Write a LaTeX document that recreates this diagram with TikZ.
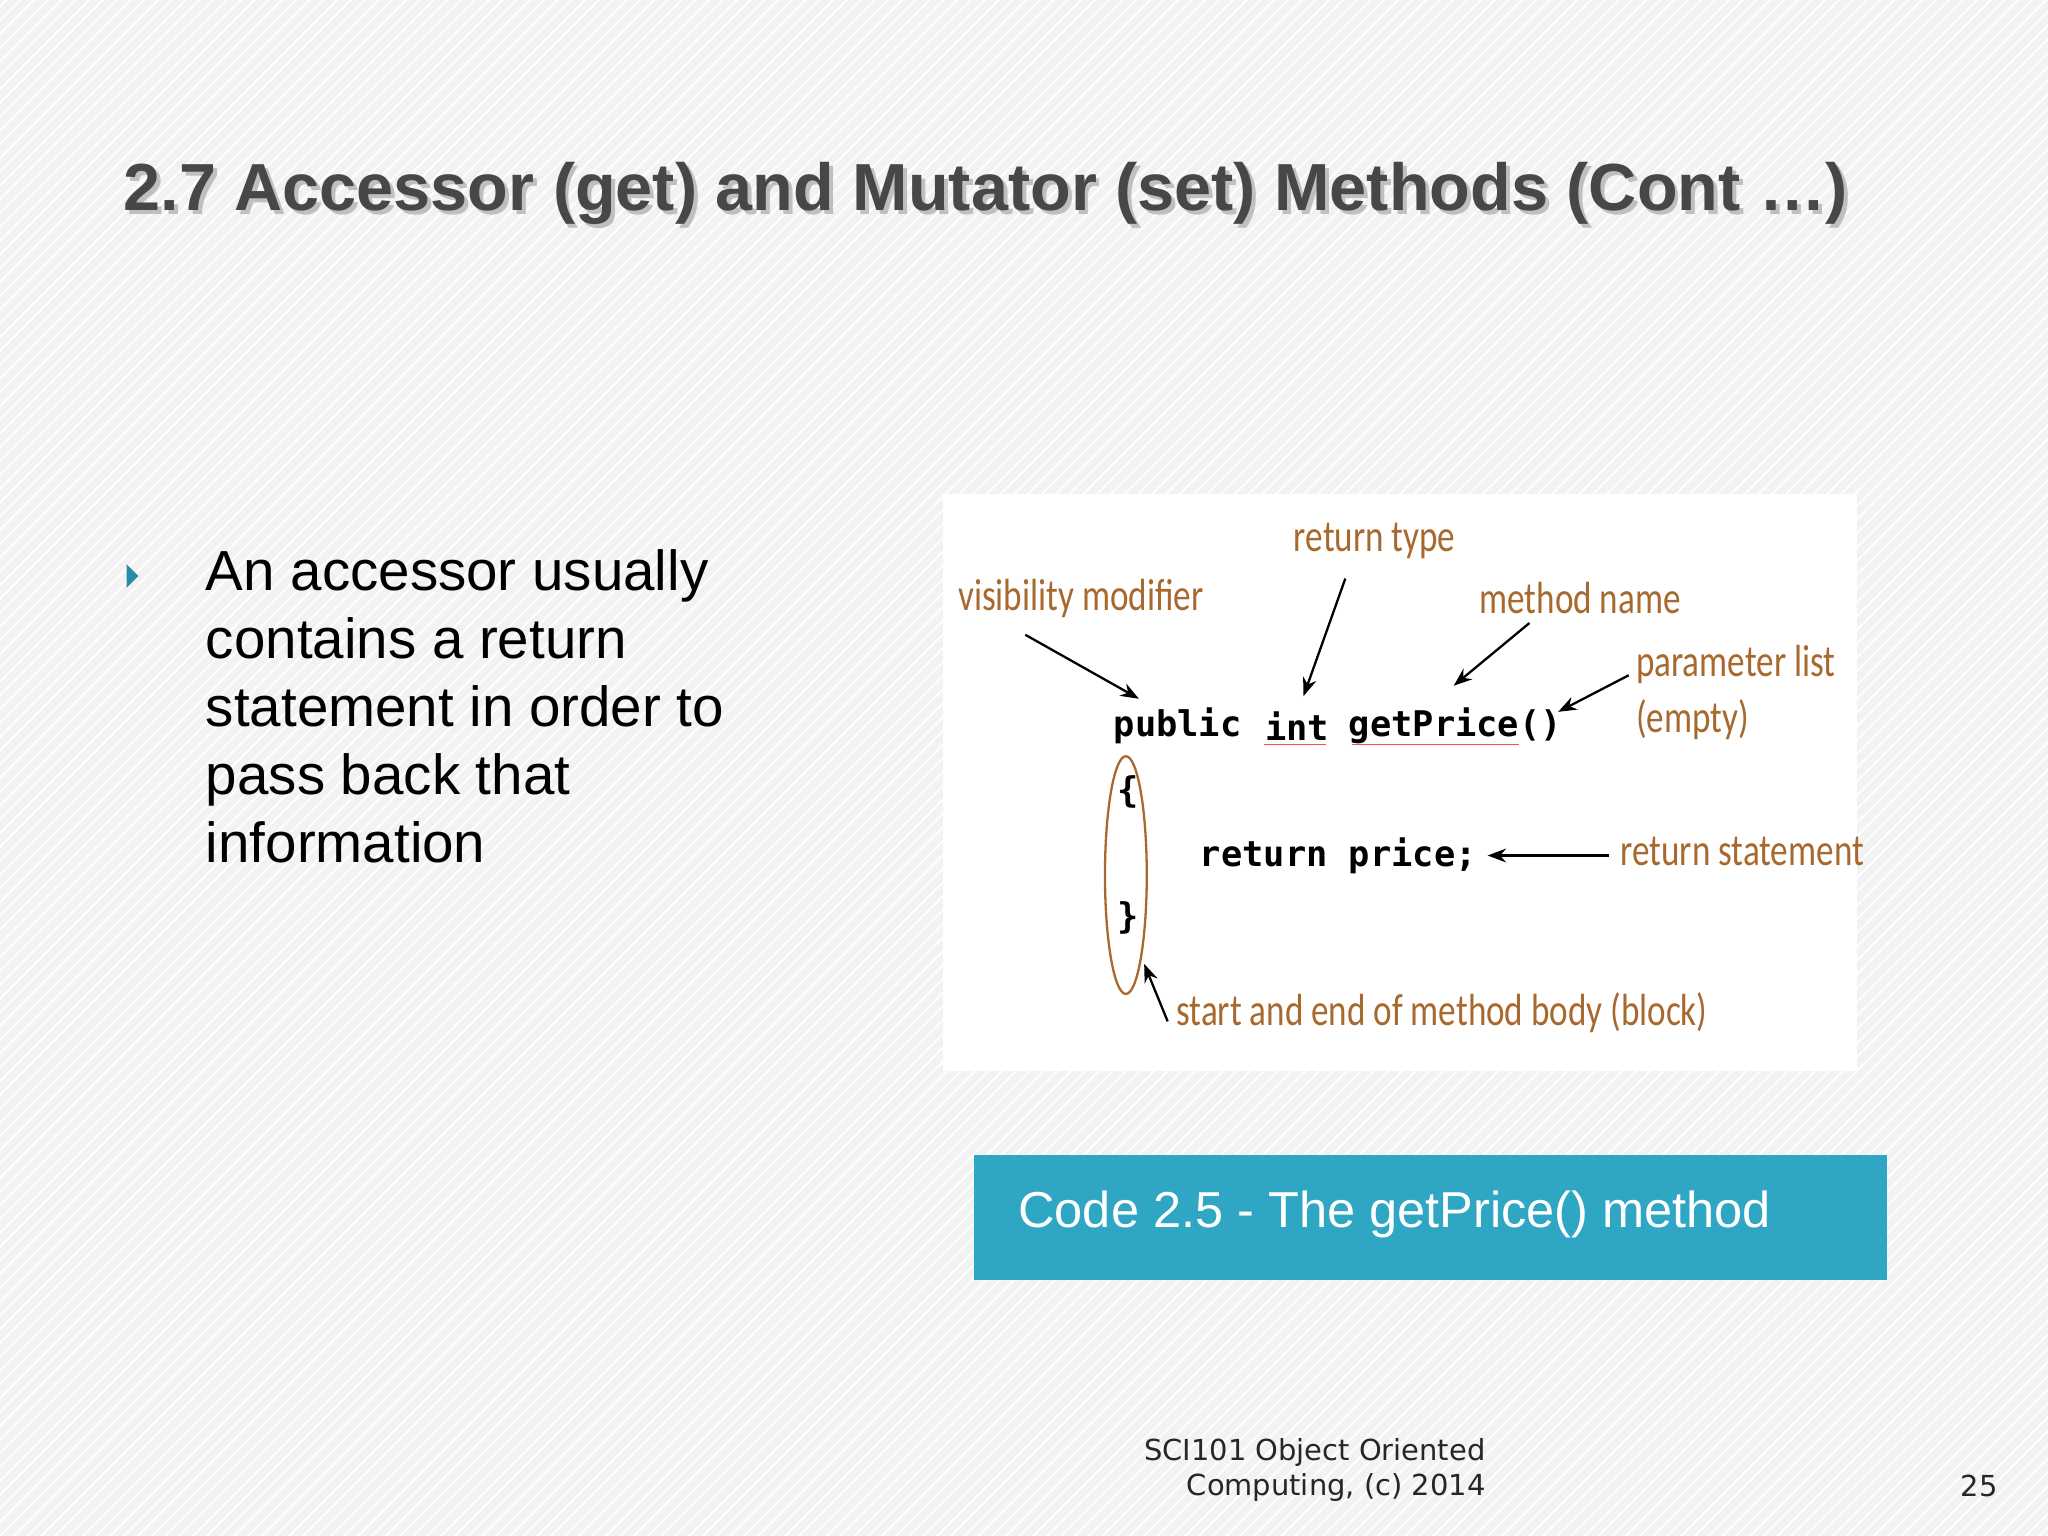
\documentclass[tikz,border=0pt]{standalone}
\usepackage{fontspec}
\setmainfont{Liberation Sans}
\newfontfamily\annfont[FakeStretch=0.78]{Carlito}
\newfontfamily\codefont{DejaVu Sans Mono}
\newfontfamily\footfont{DejaVu Sans}
\usetikzlibrary{arrows.meta,patterns}
\definecolor{ann}{HTML}{A8692E}
\definecolor{capblue}{HTML}{2EA6C4}
\definecolor{bg}{HTML}{F2F2F2}
\tikzset{
  annot/.style={font=\annfont\fontsize{9.8}{11}\selectfont, text=ann, inner sep=0pt, anchor=west},
  code/.style={font=\codefont\bfseries\fontsize{7.7}{9}\selectfont, inner sep=0pt, anchor=west},
  arr/.style={-{Stealth[length=4pt,width=3pt]}, line width=0.5pt},
}
\begin{document}
\begin{tikzpicture}[x=0.01cm,y=-0.01cm]
\useasboundingbox (0,0) rectangle (1568,1176);
\fill[bg] (0,0) rectangle (1568,1176);
\fill[pattern=north east lines, pattern color=white] (0,0) rectangle (1568,1176);
% title
\node[anchor=west, inner sep=0pt, font=\bfseries\fontsize{14.5}{18}\selectfont, text=black!25] (tshadow) at (97,151) {2.7 Accessor (get) and Mutator (set) Methods (Cont \dots)};
\node[anchor=west, inner sep=0pt, font=\bfseries\fontsize{14.5}{18}\selectfont, text=black!72] (title) at (94,148) {2.7 Accessor (get) and Mutator (set) Methods (Cont \dots)};
% bullet
\fill[capblue!85!black] (97,432) -- (106,441) -- (97,450) -- cycle;
\node[anchor=north west, inner sep=0pt, align=left, font=\fontsize{12.3}{14.8}\selectfont] (body) at (157,420) {An accessor usually\\contains a return\\statement in order to\\pass back that\\information};
% image panel
\fill[white] (722,378) rectangle (1422,820);
\node[code] (public) at (852,556) {public};
\node[code] (int) at (968,556) {int};
\node[code] (get) at (1032,556) {getPrice()};
\node[code] (lb) at (855,606) {\{};
\node[code] (ret) at (918,655) {return price;};
\node[code] (rb) at (855,703) {\}};
\draw[red!70, line width=0.4pt] (968,570) -- (1015,570);
\draw[red!70, line width=0.4pt] (1035,570) -- (1163,570);
\draw[ann, line width=0.5pt] (862,670) ellipse (16 and 91);
\node[annot] (rtype) at (990,414) {return type};
\node[annot] (vis) at (733,458) {visibility modifier};
\node[annot] (mname) at (1132,458) {method name};
\node[annot] (plist) at (1252,509) {parameter list};
\node[annot] (empty) at (1252,551) {(empty)};
\node[annot] (rstmt) at (1240,652) {return statement};
\node[annot] (block) at (900,775) {start and end of method body (block)};
\coordinate (a1s) at (785,486); \coordinate (a1e) at (872,535);
\coordinate (a2s) at (1030,443); \coordinate (a2e) at (998,533);
\coordinate (a3s) at (1171,477); \coordinate (a3e) at (1113,525);
\coordinate (a4s) at (1247,517); \coordinate (a4e) at (1193,545);
\coordinate (a5s) at (1232,655); \coordinate (a5e) at (1139,655);
\coordinate (a6s) at (894,782); \coordinate (a6e) at (876,738);
\draw[arr] (a1s) -- (a1e);
\draw[arr] (a2s) -- (a2e);
\draw[arr] (a3s) -- (a3e);
\draw[arr] (a4s) -- (a4e);
\draw[arr] (a5s) -- (a5e);
\draw[arr] (a6s) -- (a6e);
% caption
\fill[capblue] (746,884) rectangle (1445,980);
\node[anchor=west, inner sep=0pt, text=white, font=\fontsize{11}{13}\selectfont] (cap) at (779,930) {Code 2.5 - The getPrice() method};
% footer
\node[anchor=north east, inner sep=0pt, align=right, font=\footfont\fontsize{6.3}{7.6}\selectfont, text=black!85] (foot) at (1138,1101) {SCI101 Object Oriented\\Computing, (c) 2014};
\node[anchor=east, inner sep=0pt, font=\footfont\fontsize{6.3}{7.6}\selectfont, text=black!85] (pg) at (1530,1138) {25};
\end{tikzpicture}
\end{document}
